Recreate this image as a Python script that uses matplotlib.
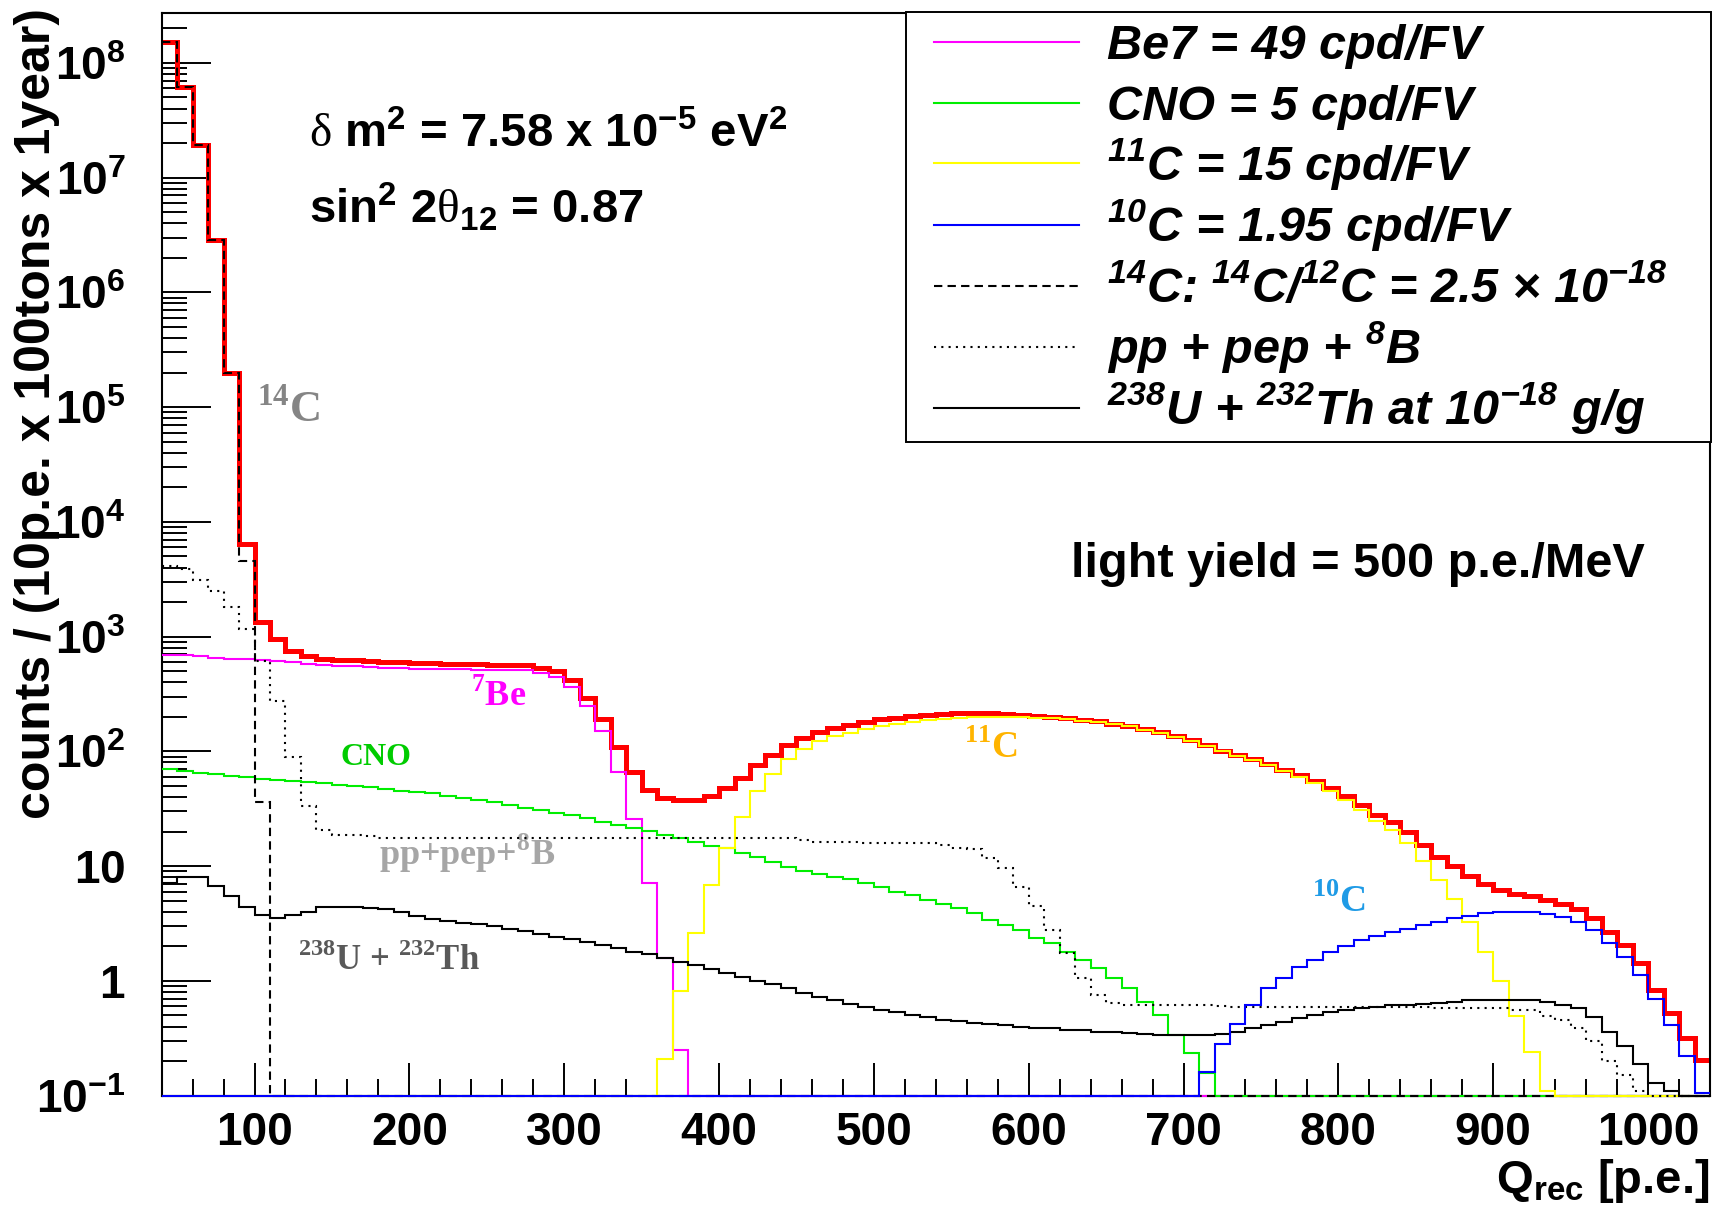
"""
Spectrum of reconstructed charge Q_rec for the main solar-neutrino signals and
backgrounds (10 p.e. bins, 100 t x 1 yr), ROOT-style log plot.
"""
import numpy as np
import matplotlib
matplotlib.use("Agg")
import matplotlib.pyplot as plt
from matplotlib.lines import Line2D
from matplotlib.patches import Rectangle
from matplotlib.ticker import LogLocator, MultipleLocator, NullFormatter

plt.rcParams["font.family"] = ["Liberation Sans", "DejaVu Sans"]
plt.rcParams["mathtext.fontset"] = "custom"
plt.rcParams["mathtext.rm"] = "Liberation Serif:bold"
plt.rcParams["mathtext.bf"] = "Liberation Sans:bold"
plt.rcParams["mathtext.sf"] = "Liberation Sans:bold:italic"
plt.rcParams["mathtext.tt"] = "Liberation Serif"

# --- data: counts per 10 p.e. bin, bins start at 40 p.e. -------------------
q_lo, q_hi, q_step = 40, 1040, 10

c14_start = 40
c14 = [1.53e8, 6.2e7, 1.92e7, 2.86e6, 1.97e5, 4.6e3, 36]

be7_start = 40
be7 = [690, 685, 675, 650, 642, 635, 625, 615, 600, 580,
       565, 555, 550, 545, 535, 530, 525, 522, 520, 518,
       515, 513, 512, 510, 480, 449, 367, 246, 149, 66.6,
       25.6, 7.1, 1.57, 0.25]

cno_start = 40
cno = [70, 68, 65, 63, 61, 59.5, 58, 56.5, 55, 54,
       52.5, 51, 49.5, 48.5, 47, 45.5, 44, 43, 41, 39.5,
       38, 36, 34.1, 32.4, 30.9, 29.3, 27.9, 26.1, 24.4, 22.9,
       21.4, 20.2, 18.7, 17.5, 16.3, 15.0, 14.3, 13.1, 11.9, 10.9,
       9.9, 9.0, 8.6, 8.1, 7.7, 7.1, 6.6, 6.0, 5.6, 5.1,
       4.7, 4.3, 3.9, 3.4, 3.07, 2.78, 2.35, 2.12, 1.8, 1.52,
       1.29, 1.05, 0.86, 0.66, 0.50, 0.34, 0.235, 0.157]

c11_start = 360
c11 = [0.21, 0.82, 2.6, 6.85, 14.5, 27, 45, 64, 86, 104,
       122, 136, 145, 158, 168, 172, 182, 188, 192, 195,
       198, 200, 200, 198, 196, 194, 190, 184, 180, 172,
       165, 155, 145, 134, 124, 112, 100, 91, 84, 76,
       67, 60, 53, 45, 38, 31, 24.5, 20.5, 16, 11,
       7.6, 5.2, 3.28, 1.8, 1.0, 0.49, 0.24, 0.11]

c10_start = 710
c10 = [0.16, 0.28, 0.42, 0.61, 0.86, 1.05, 1.32, 1.53, 1.8, 2.0,
       2.25, 2.45, 2.68, 2.81, 3.07, 3.28, 3.5, 3.67, 3.88, 3.98,
       4.01, 4.0, 3.83, 3.63, 3.28, 2.78, 2.12, 1.63, 1.12, 0.70,
       0.41, 0.22, 0.106]

pp_start = 40
pp = [4100, 3900, 3130, 2480, 1810, 1160, 607, 275, 90, 33.4,
      20.7, 18.7, 18.7, 18.2, 17.5, 17.5, 17.5, 17.5, 17.5, 17.5,
      17.5, 17.5, 17.5, 17.5, 17.5, 17.5, 17.5, 17.5, 17.5, 17.5,
      17.5, 17.5, 17.5, 17.5, 17.5, 17.5, 17.5, 17.5, 17.5, 17.5,
      17.5, 17.0, 16.3, 16.2, 16.1, 16.0, 16.0, 16.0, 15.9, 15.8,
      15.3, 14.3, 14.0, 11.7, 9.6, 6.6, 4.5, 2.77, 1.74, 1.05,
      0.75, 0.64, 0.62, 0.62, 0.62, 0.62, 0.62, 0.61, 0.60, 0.59,
      0.59, 0.59, 0.59, 0.59, 0.59, 0.59, 0.59, 0.59, 0.59, 0.59,
      0.59, 0.59, 0.575, 0.575, 0.575, 0.575, 0.575, 0.56, 0.56, 0.49,
      0.46, 0.39, 0.30, 0.20, 0.15, 0.11]

uth_start = 40
uth = [7.1, 8.0, 8.0, 6.7, 5.5, 4.4, 3.75, 3.55, 3.75, 3.95,
       4.4, 4.4, 4.4, 4.35, 4.2, 3.95, 3.7, 3.45, 3.35, 3.2,
       3.1, 3.0, 2.85, 2.7, 2.55, 2.42, 2.3, 2.17, 2.05, 1.93,
       1.8, 1.7, 1.58, 1.47, 1.37, 1.27, 1.18, 1.09, 1.0, 0.93,
       0.86, 0.79, 0.73, 0.68, 0.63, 0.59, 0.56, 0.53, 0.50, 0.48,
       0.46, 0.445, 0.43, 0.42, 0.41, 0.40, 0.39, 0.385, 0.375, 0.37,
       0.36, 0.355, 0.35, 0.345, 0.34, 0.34, 0.34, 0.34, 0.345, 0.36,
       0.39, 0.41, 0.44, 0.47, 0.50, 0.53, 0.56, 0.575, 0.59, 0.61,
       0.62, 0.625, 0.645, 0.655, 0.68, 0.68, 0.685, 0.685, 0.68, 0.66,
       0.62, 0.58, 0.48, 0.36, 0.27, 0.19, 0.13, 0.11, 0.10, 0.10]

y_min, y_max = 0.1, 2.72e8
x_ticks = [100, 200, 300, 400, 500, 600, 700, 800, 900, 1000]
y_ticks = [0.1, 1, 10, 1e2, 1e3, 1e4, 1e5, 1e6, 1e7, 1e8]
y_ticklabels = [r"$\mathbf{10^{-1}}$", r"$\mathbf{1}$", r"$\mathbf{10}$",
                r"$\mathbf{10^{2}}$", r"$\mathbf{10^{3}}$", r"$\mathbf{10^{4}}$",
                r"$\mathbf{10^{5}}$", r"$\mathbf{10^{6}}$", r"$\mathbf{10^{7}}$",
                r"$\mathbf{10^{8}}$"]

edges = np.arange(q_lo, q_hi + 1, q_step)


def full(start, vals):
    out = np.zeros(len(edges) - 1)
    i = (start - q_lo) // q_step
    out[i:i + len(vals)] = vals
    return out


h_c14 = full(c14_start, c14)
h_be7 = full(be7_start, be7)
h_cno = full(cno_start, cno)
h_c11 = full(c11_start, c11)
h_c10 = full(c10_start, c10)
h_pp = full(pp_start, pp)
h_uth = full(uth_start, uth)
h_tot = h_c14 + h_be7 + h_cno + h_c11 + h_c10 + h_pp + h_uth

W, H = 1713, 1206


def fx(x):
    return x / W


def fy(y):
    return 1 - y / H


fig = plt.figure(figsize=(W / 100, H / 100), dpi=100)
ax = fig.add_axes([fx(161.6), fy(1095.6), fx(1710) - fx(161.6), fy(13) - fy(1095.6)])


def draw(h, **kw):
    # empty bins sit on the bottom of the frame, as ROOT draws them
    ax.stairs(np.maximum(h, y_min), edges, baseline=None, clip_on=False, **kw)


draw(h_tot, color="#ff0000", lw=3.6, zorder=2)
draw(h_be7, color="#ff00ff", lw=1.5, zorder=3)
draw(h_cno, color="#00ee00", lw=1.5, zorder=4)
draw(h_c14, color="black", lw=1.5, ls=(0, (4, 2.5)), zorder=5)
draw(h_c11, color="#ffff00", lw=1.5, zorder=6)
draw(h_pp, color="black", lw=1.5, ls=(0, (1, 2.5)), zorder=7)
draw(h_uth, color="black", lw=1.5, zorder=8)
draw(h_c10, color="#0000ff", lw=1.5, zorder=9)

ax.set_yscale("log")
ax.set_xlim(q_lo, q_hi)
ax.set_ylim(y_min, y_max)
ax.set_xticks(x_ticks, labels=[str(t) for t in x_ticks], fontsize=33, fontweight="bold")
ax.xaxis.set_minor_locator(MultipleLocator(20))
ax.set_yticks(y_ticks, labels=y_ticklabels, fontsize=33)
ax.yaxis.set_minor_locator(LogLocator(base=10, subs=np.arange(2, 10), numticks=30))
ax.yaxis.set_minor_formatter(NullFormatter())
ax.tick_params(axis="x", which="major", direction="in", length=24, width=1.4, pad=11)
ax.tick_params(axis="x", which="minor", direction="in", length=12, width=1.4)
ax.tick_params(axis="y", which="major", direction="in", length=35, width=1.4, pad=26)
ax.tick_params(axis="y", which="minor", direction="in", length=18, width=1.4)
for s in ax.spines.values():
    s.set_linewidth(1.5)

# axis titles
fig.text(fx(1709), fy(1193), r"Q$_{\mathbf{rec}}$ [p.e.]", fontsize=34,
         fontweight="bold", ha="right", va="baseline")
fig.text(fx(37), fy(8), "counts / (10p.e. x 100tons x 1year)", fontsize=36,
         fontweight="bold", rotation=90, ha="center", va="top")

# parameter text
fig.text(fx(309), fy(147), r"$\mathtt{\delta}$ m$^{\mathbf{2}}$ = 7.58 x 10$^{\mathbf{-5}}$ eV$^{\mathbf{2}}$",
         fontsize=34, fontweight="bold", va="baseline")
fig.text(fx(309), fy(223), r"sin$^{\mathbf{2}}$ 2$\mathtt{\theta}_{\mathbf{12}}$ = 0.87",
         fontsize=34, fontweight="bold", va="baseline")
fig.text(fx(1071), fy(577), "light yield = 500 p.e./MeV", fontsize=35,
         fontweight="bold", va="baseline")

# labels on the curves
serif = dict(family=["Liberation Serif", "DejaVu Serif"], fontweight="bold", va="baseline")
ax.text(101.5, 10 ** 4.864, r"$^{14}$C", fontsize=32, color="#858585", **serif)
ax.text(240, 10 ** 2.394, r"$^{7}$Be", fontsize=26, color="#ff00ff", **serif)
ax.text(155.7, 10 ** 1.882, "CNO", fontsize=23, color="#00cc00", **serif)
ax.text(180.2, 10 ** 1.01, r"pp+pep+$^{8}$B", fontsize=26, color="#a6a6a6", **serif)
ax.text(127.8, 10 ** 0.095, r"$^{238}$U + $^{232}$Th", fontsize=25, color="#595959", **serif)
ax.text(558, 10 ** 1.941, r"$^{11}$C", fontsize=27, color="#ffb400", **serif)
ax.text(782.8, 10 ** 0.603, r"$^{10}$C", fontsize=27, color="#1f9be6", **serif)

# legend (drawn by hand to keep the ROOT row spacing)
fig.add_artist(Rectangle((fx(906), fy(442)), fx(1711) - fx(906), fy(12) - fy(442),
                         transform=fig.transFigure, facecolor="white",
                         edgecolor="black", lw=1.4, zorder=10))
legend_rows = [
    ("#ff00ff", "-", "Be7 = 49 cpd/FV"),
    ("#00ee00", "-", "CNO = 5 cpd/FV"),
    ("#ffff00", "-", r"$^{\mathsf{11}}$C = 15 cpd/FV"),
    ("#0000ff", "-", r"$^{\mathsf{10}}$C = 1.95 cpd/FV"),
    ("black", (0, (4, 2.5)), r"$^{\mathsf{14}}$C: $^{\mathsf{14}}$C/$^{\mathsf{12}}$C = 2.5 × 10$^{\mathsf{-18}}$"),
    ("black", (0, (1, 2.5)), r"pp + pep + $^{\mathsf{8}}$B"),
    ("black", "-", r"$^{\mathsf{238}}$U + $^{\mathsf{232}}$Th at 10$^{\mathsf{-18}}$ g/g"),
]
row_y = [41.7, 102.7, 163.3, 225, 286, 347.3, 408.3]
for (col, ls, lab), y in zip(legend_rows, row_y):
    fig.add_artist(Line2D([fx(934), fx(1079)], [fy(y), fy(y)], transform=fig.transFigure,
                          color=col, lw=1.5, ls=ls, zorder=11))
    fig.text(fx(1107), fy(y + 17), lab, fontsize=35, fontweight="bold",
             fontstyle="italic", va="baseline", zorder=11)

fig.savefig("out.png", dpi=100)
